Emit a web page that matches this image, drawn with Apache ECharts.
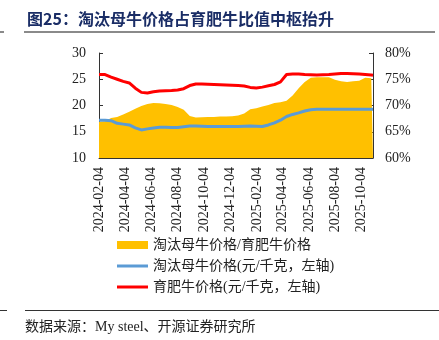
<!DOCTYPE html>
<html>
<head>
<meta charset="utf-8">
<script src="https://cdn.jsdelivr.net/npm/echarts@6/dist/echarts.min.js"></script>
<style>
html,body{margin:0;padding:0;background:#fff;}
#c{width:439px;height:340px;}
</style>
</head>
<body>
<div id="c"></div>
<script>
// ---- data ----
const dates = ['2024-02-04','2024-02-18','2024-03-03','2024-03-17','2024-03-31','2024-04-14','2024-04-28','2024-05-12','2024-05-26','2024-06-09','2024-06-23','2024-07-07','2024-07-21','2024-08-04','2024-08-18','2024-09-01','2024-09-15','2024-09-29','2024-10-13','2024-10-27','2024-11-10','2024-11-24','2024-12-08','2024-12-22','2025-01-05','2025-01-19','2025-02-02','2025-02-16','2025-03-02','2025-03-16','2025-03-30','2025-04-13','2025-04-27','2025-05-11','2025-05-25','2025-06-08','2025-06-22','2025-07-06','2025-07-20','2025-08-03','2025-08-17','2025-08-31','2025-09-14','2025-09-28','2025-10-12','2025-10-26','2025-10-30'];
const fatCattlePrice = [25.9,25.9,25.4,25.0,24.6,24.3,23.3,22.5,22.4,22.6,22.75,22.8,22.85,22.95,23.2,23.8,24.1,24.1,24.05,24.0,23.95,23.9,23.85,23.8,23.7,23.45,23.35,23.5,23.75,24.0,24.5,25.9,26.0,26.0,25.9,25.85,25.8,25.85,25.9,26.0,26.1,26.1,26.05,26.0,25.9,25.8,25.75];
const cullCowPrice = [17.2,17.2,17.1,16.6,16.45,16.3,15.75,15.35,15.55,15.7,15.85,15.85,15.8,15.8,15.95,16.1,16.1,16.05,16.0,16.0,16.0,16.0,16.0,16.0,16.05,16.1,16.05,16.0,16.3,16.7,17.2,17.9,18.3,18.6,18.95,19.2,19.3,19.3,19.3,19.3,19.3,19.3,19.3,19.3,19.3,19.3,19.3];
const ratioPct = [66.9,67.0,67.6,67.8,68.3,68.8,69.4,69.9,70.3,70.5,70.45,70.3,70.1,69.7,69.2,68.0,67.7,67.75,67.8,67.8,67.9,67.9,67.95,68.1,68.5,69.3,69.5,69.8,70.1,70.5,70.6,70.9,71.9,73.3,74.5,75.3,75.4,75.4,75.4,74.9,74.6,74.5,74.6,74.7,75.3,75.2,75.2];
const tickDates = ['2024-02-04','2024-04-04','2024-06-04','2024-08-04','2024-10-04','2024-12-04','2025-02-04','2025-04-04','2025-06-04','2025-08-04','2025-10-04'];
const seriesNames = ['淘汰母牛价格/育肥牛价格','淘汰母牛价格(元/千克，左轴)','育肥牛价格(元/千克，左轴)'];
const titleText = '图25：淘汰母牛价格占育肥牛比值中枢抬升';
const sourceText = '数据来源：My steel、开源证券研究所';

function ts(s){const p=s.split('-');return Date.UTC(+p[0],+p[1]-1,+p[2]);}
function fmt(v){const d=new Date(v);const m=d.getUTCMonth()+1,dd=d.getUTCDate();return d.getUTCFullYear()+'-'+(m<10?'0':'')+m+'-'+(dd<10?'0':'')+dd;}
function pairs(vals){return dates.map((d,i)=>[ts(d),vals[i]]);}

const serif = '"Liberation Serif","Noto Sans CJK SC",serif';
const tickVals = tickDates.map(ts);
const lineIcon = 'path://M0,0L31,0L31,3L0,3Z';
const chart = echarts.init(document.getElementById('c'), null, {renderer:'canvas'});
chart.setOption({
  animation:false,
  backgroundColor:'#fff',
  graphic:[
    {type:'text',left:27,top:11,style:{text:titleText,fill:'#1a2d66',font:'bold 16px "Noto Sans CJK SC"'}},
    {type:'line',shape:{x1:24,y1:32,x2:435,y2:32},style:{stroke:'#8a8a8a',lineWidth:2}},
    {type:'line',shape:{x1:0,y1:32,x2:4,y2:32},style:{stroke:'#8a8a8a',lineWidth:2}},
    {type:'line',shape:{x1:25,y1:310.5,x2:439,y2:310.5},style:{stroke:'#333',lineWidth:1}},
    {type:'line',shape:{x1:0,y1:310.5,x2:7,y2:310.5},style:{stroke:'#333',lineWidth:1}},
    {type:'text',left:25,top:320,style:{text:sourceText,fill:'#222',font:'14px "Liberation Serif","Noto Sans CJK SC"'}}
  ],
  grid:{left:99,right:66,top:53,bottom:182,containLabel:false},
  legend:{
    orient:'vertical',left:117,top:238,padding:0,itemWidth:31,itemHeight:8,itemGap:7,
    textStyle:{fontFamily:serif,fontSize:14,color:'#222',lineHeight:14},
    data:[
      {name:seriesNames[0],icon:'rect'},
      {name:seriesNames[1],icon:lineIcon,itemStyle:{color:'#5B9BD5'}},
      {name:seriesNames[2],icon:lineIcon,itemStyle:{color:'#FF0000'}}
    ]
  },
  xAxis:{
    type:'value',min:ts(dates[0]),max:ts(dates[dates.length-1]),scale:true,
    axisLine:{lineStyle:{color:'#333',width:1}},
    axisTick:{inside:true,length:4,lineStyle:{color:'#333'},customValues:tickVals},
    axisLabel:{rotate:90,margin:9,fontFamily:serif,fontSize:14,color:'#222',customValues:tickVals,formatter:fmt,hideOverlap:false},
    splitLine:{show:false}
  },
  yAxis:[
    {type:'value',min:10,max:30,interval:5,
     axisLine:{show:true,lineStyle:{color:'#333'}},
     axisTick:{show:true,inside:true,length:4,lineStyle:{color:'#333'}},
     axisLabel:{margin:13,fontFamily:serif,fontSize:14,color:'#222'},
     splitLine:{show:false}},
    {type:'value',min:60,max:80,interval:5,position:'right',
     axisLine:{show:true,lineStyle:{color:'#333'}},
     axisTick:{show:true,inside:true,length:4,lineStyle:{color:'#333'}},
     axisLabel:{margin:12,fontFamily:serif,fontSize:14,color:'#222',formatter:'{value}%'},
     splitLine:{show:false}}
  ],
  series:[
    {name:seriesNames[0],type:'line',yAxisIndex:1,data:pairs(ratioPct),symbol:'none',
     color:'#FFC000',itemStyle:{color:'#FFC000'},lineStyle:{width:0,color:'#FFC000'},
     areaStyle:{color:'#FFC000',opacity:1,origin:'start'},z:1},
    {name:seriesNames[1],type:'line',yAxisIndex:0,data:pairs(cullCowPrice),symbol:'none',
     color:'#5B9BD5',lineStyle:{width:3,color:'#5B9BD5'},z:2},
    {name:seriesNames[2],type:'line',yAxisIndex:0,data:pairs(fatCattlePrice),symbol:'none',
     color:'#FF0000',lineStyle:{width:3,color:'#FF0000'},z:3}
  ]
});
</script>
</body>
</html>
